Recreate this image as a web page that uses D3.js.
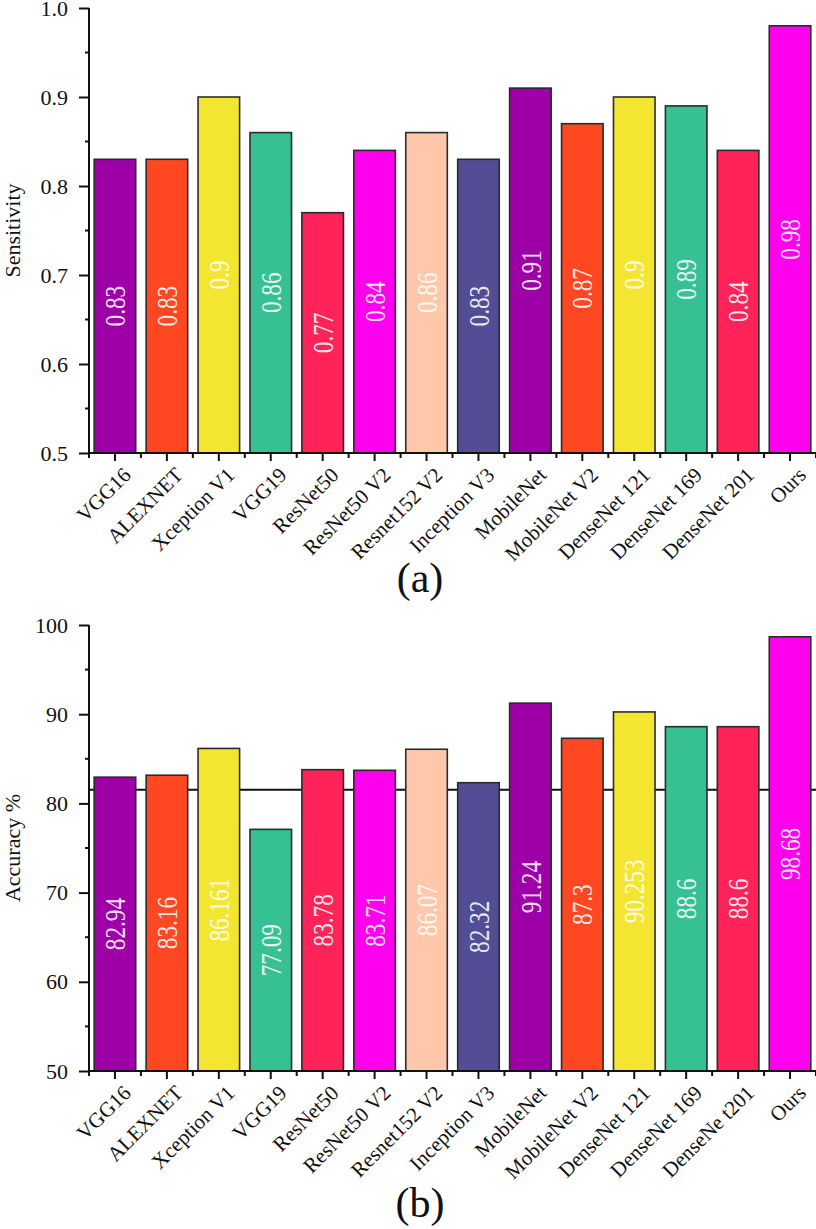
<!DOCTYPE html>
<html>
<head>
<meta charset="utf-8">
<script src="https://cdn.jsdelivr.net/npm/d3@7"></script>
<style>
  html, body { margin: 0; padding: 0; background: #fff; }
  svg { display: block; }
</style>
</head>
<body>
<svg id="chart" width="816" height="1229"></svg>
<script>
// ---------- data ----------
const categoriesA = ["VGG16", "ALEXNET", "Xception V1", "VGG19", "ResNet50", "ResNet50 V2", "Resnet152 V2", "Inception V3", "MobileNet", "MobileNet V2", "DenseNet 121", "DenseNet 169", "DenseNet 201", "Ours"];
const categoriesB = ["VGG16", "ALEXNET", "Xception V1", "VGG19", "ResNet50", "ResNet50 V2", "Resnet152 V2", "Inception V3", "MobileNet", "MobileNet V2", "DenseNet 121", "DenseNet 169", "DenseNe t201", "Ours"];
const sensitivity = [0.83, 0.83, 0.9, 0.86, 0.77, 0.84, 0.86, 0.83, 0.91, 0.87, 0.9, 0.89, 0.84, 0.98];
const sensitivityLabels = ["0.83", "0.83", "0.9", "0.86", "0.77", "0.84", "0.86", "0.83", "0.91", "0.87", "0.9", "0.89", "0.84", "0.98"];
const accuracy = [82.94, 83.16, 86.161, 77.09, 83.78, 83.71, 86.07, 82.32, 91.24, 87.3, 90.253, 88.6, 88.6, 98.68];
const accuracyLabels = ["82.94", "83.16", "86.161", "77.09", "83.78", "83.71", "86.07", "82.32", "91.24", "87.3", "90.253", "88.6", "88.6", "98.68"];
const barColors = ["#9e00a8", "#ff4722", "#f4e630", "#38c095", "#ff2359", "#ff00ee", "#ffc8aa", "#524d94", "#9e00a8", "#ff4722", "#f4e630", "#38c095", "#ff2359", "#ff00ee"];
const ticksA = [0.5, 0.6, 0.7, 0.8, 0.9, 1.0];
const minorA = [0.55, 0.65, 0.75, 0.85, 0.95];
const ticksB = [50, 60, 70, 80, 90, 100];
const minorB = [55, 65, 75, 85, 95];
const refLineB = 81.53;

// ---------- drawing ----------
const svg = d3.select("#chart");
const FONT = "'Liberation Serif', 'Times New Roman', serif";

function panel(opts) {
  const { top, bottom, domain, values, labels, cats, ticks, minor, fmt, title, panelLabel, panelY, refLine } = opts;
  const left = 89, right = 816;
  const x = d3.scaleBand().domain(d3.range(cats.length)).range([left, right]).paddingInner(0.2).paddingOuter(0.1);
  const y = d3.scaleLinear().domain(domain).range([bottom, top]);
  const g = svg.append("g");

  if (refLine !== undefined) {
    g.append("line").attr("x1", left).attr("x2", right)
      .attr("y1", y(refLine)).attr("y2", y(refLine))
      .attr("stroke", "#111").attr("stroke-width", 2);
  }

  g.selectAll("rect.bar").data(values).join("rect")
    .attr("class", "bar")
    .attr("x", (d, i) => x(i))
    .attr("width", x.bandwidth())
    .attr("y", d => y(d))
    .attr("height", d => y(domain[0]) - y(d))
    .attr("fill", (d, i) => barColors[i])
    .attr("stroke", "#2b2b2b").attr("stroke-width", 1.6);

  g.selectAll("text.val").data(values).join("text")
    .attr("class", "val")
    .attr("transform", (d, i) => `translate(${x(i) + x.bandwidth() / 2},${(y(d) + y(domain[0])) / 2}) rotate(-90) scale(0.8,1)`)
    .attr("text-anchor", "middle").attr("dy", "0.35em")
    .attr("font-family", FONT).attr("font-size", 29)
    .attr("fill", "#fff").attr("fill-opacity", 0.9)
    .text((d, i) => labels[i]);

  // y axis
  const yAxis = d3.axisLeft(y).tickValues(ticks).tickFormat(fmt).tickSize(10).tickPadding(11);
  const ya = g.append("g").attr("transform", `translate(${left},0)`).call(yAxis);
  ya.select(".domain").attr("stroke", "#111").attr("stroke-width", 2).attr("d", `M0,${top}V${bottom}`);
  ya.selectAll(".tick line").attr("stroke", "#111").attr("stroke-width", 2);
  ya.selectAll(".tick text").attr("font-family", FONT).attr("font-size", 22).attr("fill", "#111");
  g.selectAll("line.minorY").data(minor).join("line").attr("class", "minorY")
    .attr("x1", left - 4).attr("x2", left).attr("y1", d => y(d)).attr("y2", d => y(d))
    .attr("stroke", "#111").attr("stroke-width", 2);

  // x axis
  g.append("line").attr("x1", left).attr("x2", right).attr("y1", bottom).attr("y2", bottom)
    .attr("stroke", "#111").attr("stroke-width", 2);
  const step = x.step();
  g.selectAll("line.majX").data(d3.range(cats.length)).join("line").attr("class", "majX")
    .attr("x1", i => x(i) + x.bandwidth() / 2).attr("x2", i => x(i) + x.bandwidth() / 2)
    .attr("y1", bottom).attr("y2", bottom + 8)
    .attr("stroke", "#111").attr("stroke-width", 2);
  g.selectAll("line.minX").data(d3.range(cats.length + 1)).join("line").attr("class", "minX")
    .attr("x1", i => left + i * step).attr("x2", i => left + i * step)
    .attr("y1", bottom).attr("y2", bottom + 5)
    .attr("stroke", "#111").attr("stroke-width", 2);
  g.selectAll("text.cat").data(cats).join("text").attr("class", "cat")
    .attr("transform", (d, i) => `translate(${x(i) + x.bandwidth() / 2 + 12},${bottom + 18}) rotate(-45)`)
    .attr("text-anchor", "end").attr("dy", "0.35em")
    .attr("font-family", FONT).attr("font-size", 21).attr("fill", "#111")
    .text(d => d);

  // axis title
  g.append("text")
    .attr("transform", `translate(20,${(top + bottom) / 2}) rotate(-90)`)
    .attr("text-anchor", "middle")
    .attr("font-family", FONT).attr("font-size", 22).attr("fill", "#111")
    .text(title);

  // panel label
  g.append("text").attr("x", 420).attr("y", panelY)
    .attr("text-anchor", "middle")
    .attr("font-family", FONT).attr("font-size", 42).attr("fill", "#111")
    .text(panelLabel);
}

panel({ top: 8, bottom: 453, domain: [0.5, 1.0], values: sensitivity, labels: sensitivityLabels, cats: categoriesA,
  ticks: ticksA, minor: minorA, fmt: d3.format(".1f"), title: "Sensitivity", panelLabel: "(a)", panelY: 592 });
panel({ top: 625, bottom: 1071, domain: [50, 100], values: accuracy, labels: accuracyLabels, cats: categoriesB,
  ticks: ticksB, minor: minorB, fmt: d3.format("d"), title: "Accuracy %", panelLabel: "(b)", panelY: 1217, refLine: refLineB });
</script>
</body>
</html>
